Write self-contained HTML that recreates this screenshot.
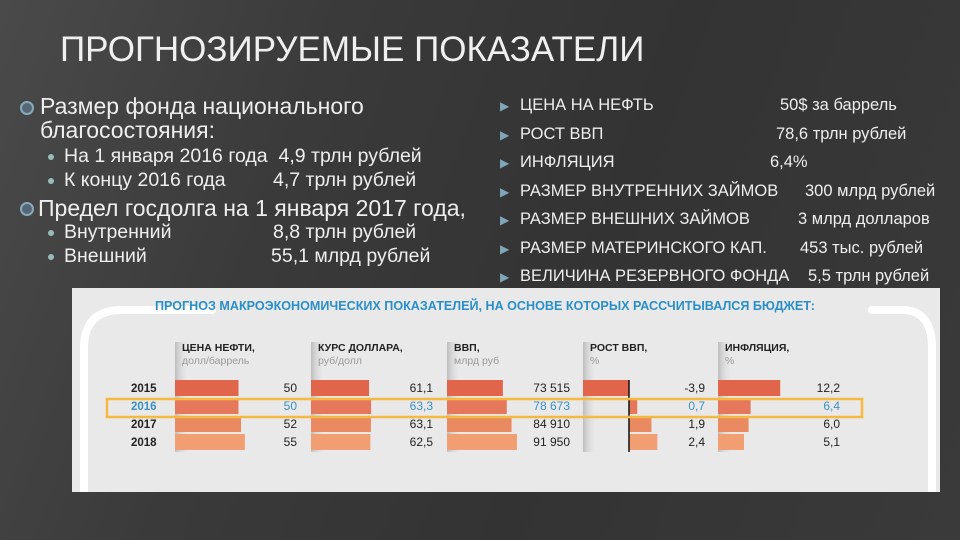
<!DOCTYPE html>
<html><head><meta charset="utf-8">
<style>
body{margin:0;width:960px;height:540px;overflow:hidden;background:linear-gradient(110deg,#4a4a4a 0%,#3a3a3a 30%,#333 60%,#3a3a3a 100%);font-family:"Liberation Sans",sans-serif;color:#eee;position:relative}
.a{position:absolute;white-space:nowrap}
.l1{font-size:23px}.l2{font-size:19.5px}
.r{font-size:16.5px}
.arr{color:#7fa6b8;font-size:12px}
.dot{width:6px;height:6px;border-radius:50%;background:#9bb;}
.ring{width:10px;height:10px;border-radius:50%;border:2px solid #8ab;background:#567;}
#panel{position:absolute;left:72px;top:288px;width:868px;height:204px;background:#e9e9e9}
</style></head><body>
<div class="a" style="left:60px;top:30px;font-size:35px;color:#f0f0f0">ПРОГНОЗИРУЕМЫЕ ПОКАЗАТЕЛИ</div>

<div class="a ring" style="left:20px;top:101px"></div>
<div class="a l1" style="left:40px;top:94px;line-height:24px">Размер фонда национального<br>благосостояния:</div>
<div class="a dot" style="left:48px;top:154px"></div>
<div class="a l2" style="left:64px;top:145px">На 1 января 2016 года&nbsp; 4,9 трлн рублей</div>
<div class="a dot" style="left:48px;top:178px"></div>
<div class="a l2" style="left:64px;top:169px">К концу 2016 года</div>
<div class="a l2" style="left:273px;top:169px">4,7 трлн рублей</div>
<div class="a ring" style="left:20px;top:202px"></div>
<div class="a l1" style="left:38px;top:195px">Предел госдолга на 1 января 2017 года,</div>
<div class="a dot" style="left:48px;top:230px"></div>
<div class="a l2" style="left:64px;top:221px">Внутренний</div>
<div class="a l2" style="left:273px;top:221px">8,8 трлн рублей</div>
<div class="a dot" style="left:48px;top:254px"></div>
<div class="a l2" style="left:64px;top:245px">Внешний</div>
<div class="a l2" style="left:271px;top:245px">55,1 млрд рублей</div>

<div id="rlist"></div>

<div id="panel">
<svg width="868" height="204" style="position:absolute;left:0;top:0">
<path d="M12 204 V60 Q12 22 50 22 H140" fill="none" stroke="#fff" stroke-width="8" stroke-linecap="round"/>
<path d="M800 22 H830 Q860 22 860 60 V204" fill="none" stroke="#fff" stroke-width="8" stroke-linecap="round"/>
</svg>
</div>
<svg id="chart" width="960" height="540" style="position:absolute;left:0;top:0" font-family="Liberation Sans, sans-serif">
<defs><linearGradient id="sh" x1="0" x2="1"><stop offset="0" stop-color="#bdbdbd"/><stop offset="1" stop-color="#e9e9e9" stop-opacity="0"/></linearGradient></defs>
<text x="155" y="310" font-size="13" font-weight="bold" fill="#2a8fc9" textLength="660" lengthAdjust="spacingAndGlyphs">ПРОГНОЗ МАКРОЭКОНОМИЧЕСКИХ ПОКАЗАТЕЛЕЙ, НА ОСНОВЕ КОТОРЫХ РАССЧИТЫВАЛСЯ БЮДЖЕТ:</text>
<g id="g"></g>
</svg>
<script>
const years=["2015","2016","2017","2018"];
const oil=[50,50,52,55];
const oilLabels=["50","50","52","55"];
const usd=[61.1,63.3,63.1,62.5];
const usdLabels=["61,1","63,3","63,1","62,5"];
const gdp=[73515,78673,84910,91950];
const gdpLabels=["73 515","78 673","84 910","91 950"];
const growth=[-3.9,0.7,1.9,2.4];
const growthLabels=["-3,9","0,7","1,9","2,4"];
const infl=[12.2,6.4,6.0,5.1];
const inflLabels=["12,2","6,4","6,0","5,1"];
const rItems=["ЦЕНА НА НЕФТЬ","РОСТ ВВП","ИНФЛЯЦИЯ","РАЗМЕР ВНУТРЕННИХ ЗАЙМОВ","РАЗМЕР ВНЕШНИХ ЗАЙМОВ","РАЗМЕР МАТЕРИНСКОГО КАП.","ВЕЛИЧИНА РЕЗЕРВНОГО ФОНДА"];
const rVals=["50$ за баррель","78,6 трлн рублей","6,4%","300 млрд рублей","3 млрд долларов","453 тыс. рублей","5,5 трлн рублей"];
const rValX=[780,776,770,805,798,800,808];

const rl=document.getElementById('rlist');
rItems.forEach((t,i)=>{
  const y=96+i*28.5;
  const a=document.createElement('div');a.className='a arr';a.style.left='500px';a.style.top=(y+3)+'px';a.textContent='▶';
  
  
  rl.appendChild(a);
  const b=document.createElement('div');b.className='a r';b.style.left='520px';b.style.top=y+'px';b.textContent=t;
  
  
  rl.appendChild(b);
  const c=document.createElement('div');c.className='a r';c.style.left=rValX[i]+'px';c.style.top=y+'px';c.textContent=rVals[i];
  
  
  rl.appendChild(c);
});

const NS='http://www.w3.org/2000/svg';
const g=document.getElementById('g');
function el(tag,attrs){const e=document.createElementNS(NS,tag);for(const k in attrs)e.setAttribute(k,attrs[k]);g.appendChild(e);return e;}
const colors=["#e0654a","#e5785a","#ea8a60","#f09e72"];
const rowY=i=>380+i*18;
const rowH=16;
years.forEach((y,i)=>{
  const t=el('text',{x:131,y:rowY(i)+12,'font-size':11.5,'font-weight':'bold',fill:i==1?'#3a8fc4':'#222'});t.textContent=y;
  
  
});
const cols=[
 {name:'oil',title:'ЦЕНА НЕФТИ,',unit:'долл/баррель',x0:175,vals:oil,labels:oilLabels,scale:v=>v*1.27,lx:297},
 {name:'usd',title:'КУРС ДОЛЛАРА,',unit:'руб/долл',x0:311,vals:usd,labels:usdLabels,scale:v=>v*0.95,lx:433},
 {name:'gdp',title:'ВВП,',unit:'млрд руб',x0:447,vals:gdp,labels:gdpLabels,scale:v=>v*0.00076,lx:570},
 {name:'growth',title:'РОСТ ВВП,',unit:'%',x0:629,vals:growth,labels:growthLabels,scale:v=>v*11.8,lx:705,shadeX:583},
 {name:'inflation',title:'ИНФЛЯЦИЯ,',unit:'%',x0:718,vals:infl,labels:inflLabels,scale:v=>v*5.1,lx:840}
];
cols.forEach(c=>{
  const sx=c.shadeX||c.x0;
  const s=el('rect',{x:sx,y:342,width:14,height:110,fill:'url(#sh)'});
  
  
  const t=el('text',{x:sx+7,y:351,'font-size':10.5,'font-weight':'bold',fill:'#222'});t.textContent=c.title;
  
  
  const u=el('text',{x:sx+7,y:364,'font-size':10.5,fill:'#999'});u.textContent=c.unit;
  
  
  c.vals.forEach((v,i)=>{
    const w=c.scale(v);
    const r=el('rect',{x:w<0?c.x0+w:c.x0,y:rowY(i),width:Math.abs(w),height:rowH,fill:colors[i]});
    
    
    const l=el('text',{x:c.lx,y:rowY(i)+12,'font-size':12,'text-anchor':'end',fill:i==1?'#3a8fc4':'#222'});l.textContent=c.labels[i];
    
    
  });
  if(c.name==='growth'){
    const z=el('line',{x1:c.x0,x2:c.x0,y1:380,y2:452,stroke:'#111','stroke-width':1.5});
    
    
  }
});
const hb=el('rect',{x:107,y:399,width:755,height:18,fill:'none',stroke:'#f5b942','stroke-width':2.5});


</script>
</body></html>
